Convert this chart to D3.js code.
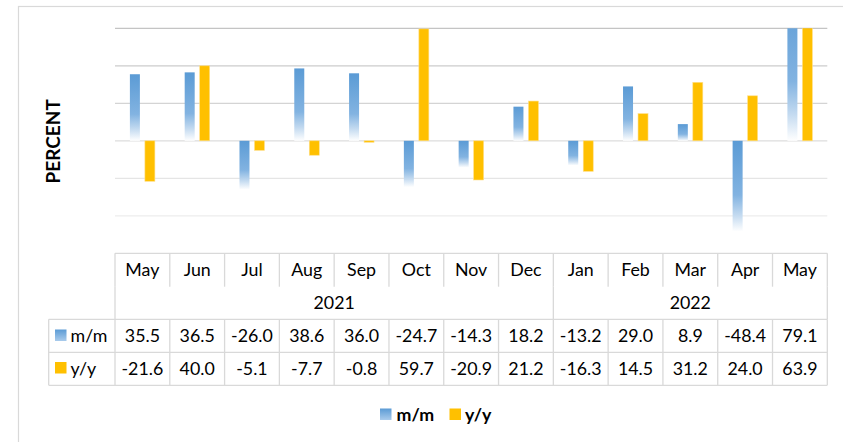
<!DOCTYPE html>
<html>
<head>
<meta charset="utf-8">
<script src="https://cdn.jsdelivr.net/npm/d3@7"></script>
<style>
  html, body { margin: 0; padding: 0; background: #fff; }
  svg { display: block; font-family: Lato, "Open Sans", sans-serif; }
</style>
</head>
<body>
<svg id="chart" width="843" height="442"></svg>
<script>
// ---- Data ----
const months = ["May","Jun","Jul","Aug","Sep","Oct","Nov","Dec","Jan","Feb","Mar","Apr","May"];
const years = ["2021","2021","2021","2021","2021","2021","2021","2021","2022","2022","2022","2022","2022"];
const seriesNames = ["m/m","y/y"];
const mmValues = [35.5, 36.5, -26.0, 38.6, 36.0, -24.7, -14.3, 18.2, -13.2, 29.0, 8.9, -48.4, 79.1];
const yyValues = [-21.6, 40.0, -5.1, -7.7, -0.8, 59.7, -20.9, 21.2, -16.3, 14.5, 31.2, 24.0, 63.9];
const yTicks = [-40, -20, 0, 20, 40, 60];
const yDomain = [-60, 60];
const axisTitle = "PERCENT";

// ---- Layout ----
const plotL = 115, plotR = 827.3, plotT = 28.3, plotB = 253.3;
const rowMonth = [253.3, 286.7], rowYear = [286.7, 319.3], rowMM = [319.3, 352.3], rowYY = [352.3, 385.3];
const labelColL = 48.7;
const lineColor = "#d9d9d9";
const blue = "#5b9bd5", yellow = "#ffc000";
const fs = 17.8;

const svg = d3.select("#chart");
const defs = svg.append("defs");
const grad = defs.append("linearGradient").attr("id", "mmGrad")
  .attr("x1", 0).attr("y1", 0).attr("x2", 0).attr("y2", 1);
[[0, "#5b9bd5"], [0.6, "#82b3e1"], [0.82, "#c3daf0"], [1, "#ffffff"]].forEach(([o, c]) =>
  grad.append("stop").attr("offset", o).attr("stop-color", c));
const sw = defs.append("linearGradient").attr("id", "swGrad")
  .attr("x1", 0).attr("y1", 0).attr("x2", 0).attr("y2", 1);
[[0, "#5b9bd5"], [1, "#a9cbec"]].forEach(([o, c]) =>
  sw.append("stop").attr("offset", o).attr("stop-color", c));
defs.append("clipPath").attr("id", "plotClip").append("rect")
  .attr("x", plotL).attr("y", plotT).attr("width", plotR - plotL).attr("height", plotB - plotT);

// chart border
svg.append("rect").attr("x", 18.5).attr("y", 6.5).attr("width", 840).attr("height", 450)
  .attr("fill", "#fff").attr("stroke", lineColor).attr("stroke-width", 1.2);

const keys = months.map((m, i) => i);
const x = d3.scaleBand().domain(keys).range([plotL, plotR]).padding(0);
const bw = x.bandwidth();
const xs = d3.scaleBand().domain(seriesNames).range([(bw - 25) / 2, (bw + 25) / 2]).paddingInner(1 / 3).paddingOuter(0);
const y = d3.scaleLinear().domain(yDomain).range([plotB, plotT]);

// gridlines
const gridColor = d3.scaleLinear().domain([-40, 60]).range(["#ededed", "#c4c4c4"]);
svg.append("g").selectAll("line").data(yTicks).join("line")
  .attr("x1", plotL).attr("x2", plotR)
  .attr("y1", d => y(d)).attr("y2", d => y(d))
  .attr("stroke", d => gridColor(d)).attr("stroke-width", 1.3);

// bars
const bars = svg.append("g").attr("clip-path", "url(#plotClip)");
const series = [
  { name: "m/m", values: mmValues, fill: "url(#mmGrad)" },
  { name: "y/y", values: yyValues, fill: yellow }
];
series.forEach(s => {
  bars.append("g").selectAll("rect").data(s.values).join("rect")
    .attr("x", (d, i) => x(i) + xs(s.name))
    .attr("width", xs.bandwidth())
    .attr("y", d => Math.min(y(d), y(0)))
    .attr("height", d => Math.abs(y(d) - y(0)))
    .attr("fill", s.fill)
    .attr("stroke", s.name === "y/y" ? "#ffe08c" : "none")
    .attr("stroke-width", s.name === "y/y" ? 0.6 : 0);
});

// Y axis title
svg.append("text").attr("transform", `translate(59.5,${(plotT + plotB) / 2 + 0.5}) rotate(-90)`)
  .attr("text-anchor", "middle").attr("font-weight", "bold").attr("font-size", 19)
  .attr("fill", "#000").text(axisTitle);

// ---- Data table ----
const tbl = svg.append("g").attr("stroke", lineColor).attr("stroke-width", 1.3);
const bounds = d3.range(months.length + 1).map(i => plotL + i * bw);
tbl.append("line").attr("x1", plotL).attr("x2", plotR).attr("y1", rowMonth[0]).attr("y2", rowMonth[0]);
bounds.forEach(b => tbl.append("line").attr("x1", b).attr("x2", b).attr("y1", rowMonth[0]).attr("y2", rowMonth[1]));
const yearGroups = d3.groups(keys, i => years[i]).map(([yr, idx]) => ({ yr, a: x(idx[0]), b: x(idx[idx.length - 1]) + bw }));
const yb = [plotL, ...yearGroups.map(g => g.b)];
yb.forEach(b => tbl.append("line").attr("x1", b).attr("x2", b).attr("y1", rowYear[0]).attr("y2", rowYear[1]));
[rowMM[0], rowMM[1], rowYY[1]].forEach(yy => tbl.append("line").attr("x1", labelColL).attr("x2", plotR).attr("y1", yy).attr("y2", yy));
[labelColL, ...bounds].forEach(b => tbl.append("line").attr("x1", b).attr("x2", b).attr("y1", rowMM[0]).attr("y2", rowYY[1]));

const txt = svg.append("g").attr("font-size", fs).attr("fill", "#000").attr("text-anchor", "middle");
txt.selectAll("text.m").data(months).join("text").attr("class", "m")
  .attr("x", (d, i) => x(i) + bw / 2).attr("y", 276.3).text(d => d);
txt.selectAll("text.yr").data(yearGroups).join("text").attr("class", "yr")
  .attr("x", d => (d.a + d.b) / 2).attr("y", 308.8).text(d => d.yr);
txt.selectAll("text.mm").data(mmValues).join("text").attr("class", "mm")
  .attr("x", (d, i) => x(i) + bw / 2).attr("y", 342).text(d => d.toFixed(1));
txt.selectAll("text.yy").data(yyValues).join("text").attr("class", "yy")
  .attr("x", (d, i) => x(i) + bw / 2).attr("y", 374.8).text(d => d.toFixed(1));

// row legend keys
svg.append("rect").attr("x", 55).attr("y", 329.5).attr("width", 11.5).attr("height", 11.5).attr("fill", "url(#swGrad)");
svg.append("text").attr("x", 70.5).attr("y", 342).attr("font-size", fs).attr("fill", "#000").text(seriesNames[0]);
svg.append("rect").attr("x", 55).attr("y", 362).attr("width", 11.5).attr("height", 11.5).attr("fill", yellow);
svg.append("text").attr("x", 70.5).attr("y", 374.8).attr("font-size", fs).attr("fill", "#000").text(seriesNames[1]);

// ---- Legend ----
const leg = svg.append("g");
leg.append("rect").attr("x", 380).attr("y", 408.5).attr("width", 11.5).attr("height", 11.5).attr("fill", "url(#swGrad)");
leg.append("text").attr("x", 396.5).attr("y", 420.5).attr("font-size", fs).attr("font-weight", "bold").attr("fill", "#000").text(seriesNames[0]);
leg.append("rect").attr("x", 449.5).attr("y", 408.5).attr("width", 11.5).attr("height", 11.5).attr("fill", yellow);
leg.append("text").attr("x", 465).attr("y", 420.5).attr("font-size", fs).attr("font-weight", "bold").attr("fill", "#000").text(seriesNames[1]);
</script>
</body>
</html>
